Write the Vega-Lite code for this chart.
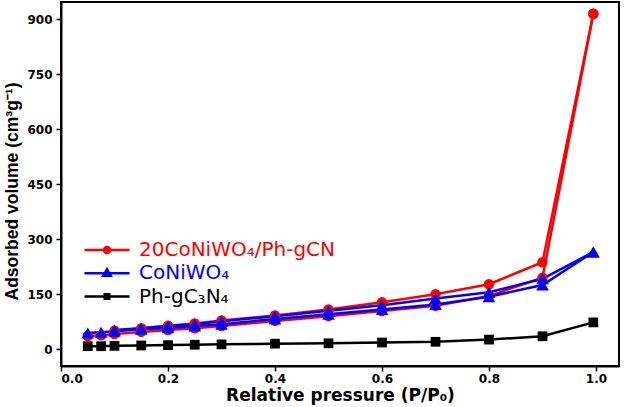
{
  "$schema": "https://vega.github.io/schema/vega-lite/v6.json",
  "width": 558,
  "height": 364,
  "autosize": {"type": "none"},
  "padding": {"left": 61, "top": 2, "right": 8, "bottom": 41},
  "background": "white",
  "config": {
    "view": {"stroke": "#000000", "strokeWidth": 2},
    "font": "Liberation Sans",
    "axis": {
      "domainColor": "#000000",
      "domainWidth": 2,
      "tickColor": "#000000",
      "tickWidth": 1.5,
      "tickSize": 5,
      "grid": false,
      "labelFont": "DejaVu Sans",
      "labelFontSize": 12,
      "labelFontWeight": "bold",
      "labelColor": "#000000",
      "titleFont": "DejaVu Sans",
      "titleFontSize": 17,
      "titleFontWeight": "bold",
      "titleColor": "#000000"
    },
    "legend": {
      "padding": 0, "orient": "none", "legendX": 36, "legendY": 238, "title": null,
      "labelFontSize": 20, "labelFont": "DejaVu Sans",
      "symbolSize": 100, "symbolStrokeWidth": 2.5, "symbolOpacity": 1, "rowPadding": 3.3, "labelOffset": 22, "labelLimit": 400
    }
  },
  "datasets": {
    "iso": [
      {"series": "20CoNiWO₄/Ph-gCN", "branch": "ads", "p": 0.05, "v": 36},
      {"series": "20CoNiWO₄/Ph-gCN", "branch": "ads", "p": 0.075, "v": 38},
      {"series": "20CoNiWO₄/Ph-gCN", "branch": "ads", "p": 0.1, "v": 41},
      {"series": "20CoNiWO₄/Ph-gCN", "branch": "ads", "p": 0.15, "v": 47},
      {"series": "20CoNiWO₄/Ph-gCN", "branch": "ads", "p": 0.2, "v": 52},
      {"series": "20CoNiWO₄/Ph-gCN", "branch": "ads", "p": 0.25, "v": 57},
      {"series": "20CoNiWO₄/Ph-gCN", "branch": "ads", "p": 0.3, "v": 63},
      {"series": "20CoNiWO₄/Ph-gCN", "branch": "ads", "p": 0.4, "v": 77},
      {"series": "20CoNiWO₄/Ph-gCN", "branch": "ads", "p": 0.5, "v": 90},
      {"series": "20CoNiWO₄/Ph-gCN", "branch": "ads", "p": 0.6, "v": 104},
      {"series": "20CoNiWO₄/Ph-gCN", "branch": "ads", "p": 0.7, "v": 118},
      {"series": "20CoNiWO₄/Ph-gCN", "branch": "ads", "p": 0.8, "v": 145},
      {"series": "20CoNiWO₄/Ph-gCN", "branch": "ads", "p": 0.9, "v": 195},
      {"series": "20CoNiWO₄/Ph-gCN", "branch": "ads", "p": 0.995, "v": 915},
      {"series": "20CoNiWO₄/Ph-gCN", "branch": "des", "p": 0.995, "v": 915},
      {"series": "20CoNiWO₄/Ph-gCN", "branch": "des", "p": 0.9, "v": 237},
      {"series": "20CoNiWO₄/Ph-gCN", "branch": "des", "p": 0.8, "v": 177},
      {"series": "20CoNiWO₄/Ph-gCN", "branch": "des", "p": 0.7, "v": 150},
      {"series": "20CoNiWO₄/Ph-gCN", "branch": "des", "p": 0.6, "v": 128},
      {"series": "20CoNiWO₄/Ph-gCN", "branch": "des", "p": 0.5, "v": 108},
      {"series": "20CoNiWO₄/Ph-gCN", "branch": "des", "p": 0.4, "v": 92},
      {"series": "20CoNiWO₄/Ph-gCN", "branch": "des", "p": 0.3, "v": 78},
      {"series": "20CoNiWO₄/Ph-gCN", "branch": "des", "p": 0.25, "v": 70},
      {"series": "20CoNiWO₄/Ph-gCN", "branch": "des", "p": 0.2, "v": 64},
      {"series": "20CoNiWO₄/Ph-gCN", "branch": "des", "p": 0.15, "v": 57},
      {"series": "20CoNiWO₄/Ph-gCN", "branch": "des", "p": 0.1, "v": 50},
      {"series": "CoNiWO₄", "branch": "ads", "p": 0.05, "v": 44},
      {"series": "CoNiWO₄", "branch": "ads", "p": 0.075, "v": 46},
      {"series": "CoNiWO₄", "branch": "ads", "p": 0.1, "v": 49},
      {"series": "CoNiWO₄", "branch": "ads", "p": 0.15, "v": 54},
      {"series": "CoNiWO₄", "branch": "ads", "p": 0.2, "v": 58},
      {"series": "CoNiWO₄", "branch": "ads", "p": 0.25, "v": 63},
      {"series": "CoNiWO₄", "branch": "ads", "p": 0.3, "v": 68},
      {"series": "CoNiWO₄", "branch": "ads", "p": 0.4, "v": 82},
      {"series": "CoNiWO₄", "branch": "ads", "p": 0.5, "v": 95},
      {"series": "CoNiWO₄", "branch": "ads", "p": 0.6, "v": 108},
      {"series": "CoNiWO₄", "branch": "ads", "p": 0.7, "v": 122},
      {"series": "CoNiWO₄", "branch": "ads", "p": 0.8, "v": 143},
      {"series": "CoNiWO₄", "branch": "ads", "p": 0.9, "v": 175},
      {"series": "CoNiWO₄", "branch": "ads", "p": 0.995, "v": 265},
      {"series": "CoNiWO₄", "branch": "des", "p": 0.995, "v": 265},
      {"series": "CoNiWO₄", "branch": "des", "p": 0.9, "v": 192},
      {"series": "CoNiWO₄", "branch": "des", "p": 0.8, "v": 155},
      {"series": "CoNiWO₄", "branch": "des", "p": 0.7, "v": 138},
      {"series": "CoNiWO₄", "branch": "des", "p": 0.6, "v": 120},
      {"series": "CoNiWO₄", "branch": "des", "p": 0.5, "v": 105},
      {"series": "CoNiWO₄", "branch": "des", "p": 0.4, "v": 90},
      {"series": "CoNiWO₄", "branch": "des", "p": 0.3, "v": 76},
      {"series": "CoNiWO₄", "branch": "des", "p": 0.25, "v": 68},
      {"series": "CoNiWO₄", "branch": "des", "p": 0.2, "v": 63},
      {"series": "CoNiWO₄", "branch": "des", "p": 0.15, "v": 57},
      {"series": "CoNiWO₄", "branch": "des", "p": 0.1, "v": 52},
      {"series": "Ph-gC₃N₄", "branch": "ads", "p": 0.05, "v": 8},
      {"series": "Ph-gC₃N₄", "branch": "ads", "p": 0.075, "v": 8},
      {"series": "Ph-gC₃N₄", "branch": "ads", "p": 0.1, "v": 9},
      {"series": "Ph-gC₃N₄", "branch": "ads", "p": 0.15, "v": 10},
      {"series": "Ph-gC₃N₄", "branch": "ads", "p": 0.2, "v": 11},
      {"series": "Ph-gC₃N₄", "branch": "ads", "p": 0.25, "v": 12},
      {"series": "Ph-gC₃N₄", "branch": "ads", "p": 0.3, "v": 13},
      {"series": "Ph-gC₃N₄", "branch": "ads", "p": 0.4, "v": 15},
      {"series": "Ph-gC₃N₄", "branch": "ads", "p": 0.5, "v": 16},
      {"series": "Ph-gC₃N₄", "branch": "ads", "p": 0.6, "v": 18},
      {"series": "Ph-gC₃N₄", "branch": "ads", "p": 0.7, "v": 20},
      {"series": "Ph-gC₃N₄", "branch": "ads", "p": 0.8, "v": 26},
      {"series": "Ph-gC₃N₄", "branch": "ads", "p": 0.9, "v": 35},
      {"series": "Ph-gC₃N₄", "branch": "ads", "p": 0.995, "v": 73}
    ],
    "names": [
      {"series": "20CoNiWO₄/Ph-gCN"},
      {"series": "CoNiWO₄"},
      {"series": "Ph-gC₃N₄"}
    ]
  },
  "layer": [
    {
      "data": {"name": "iso"},
      "mark": {"type": "line", "strokeWidth": 2.5},
      "encoding": {
        "x": {"field": "p", "type": "quantitative", "scale": {"domain": [0, 1.043], "nice": false, "zero": false}, "axis": {"title": "Relative pressure (P/P₀)", "values": [0, 0.2, 0.4, 0.6, 0.8, 1.0], "format": ".1f", "labelPadding": 2, "titlePadding": 3}},
        "y": {"field": "v", "type": "quantitative", "scale": {"domain": [-46, 947], "nice": false, "zero": false}, "axis": {"title": "Adsorbed volume (cm³g⁻¹)", "titleFont": "Liberation Sans", "titleFontSize": 17.5, "titleY": 189, "values": [0, 150, 300, 450, 600, 750, 900], "labelPadding": 4, "titlePadding": 5}},
        "color": {"field": "series", "type": "nominal", "scale": {"domain": ["20CoNiWO₄/Ph-gCN", "CoNiWO₄", "Ph-gC₃N₄"], "range": ["#ff0000", "#0000ff", "#000000"]}},
        "detail": {"field": "branch"}
      }
    },
    {
      "data": {"name": "iso"},
      "transform": [{"filter": "datum.series === '20CoNiWO₄/Ph-gCN'"}],
      "mark": {"type": "point", "filled": true, "opacity": 1, "shape": "circle", "size": 110},
      "encoding": {
        "x": {"field": "p", "type": "quantitative"},
        "y": {"field": "v", "type": "quantitative"},
        "color": {"field": "series", "type": "nominal"}
      }
    },
    {
      "data": {"name": "iso"},
      "transform": [{"filter": "datum.series === 'CoNiWO₄'"}],
      "mark": {"type": "point", "filled": true, "opacity": 1, "shape": "triangle-up", "size": 160},
      "encoding": {
        "x": {"field": "p", "type": "quantitative"},
        "y": {"field": "v", "type": "quantitative"},
        "color": {"field": "series", "type": "nominal"}
      }
    },
    {
      "data": {"name": "iso"},
      "transform": [{"filter": "datum.series === 'Ph-gC₃N₄'"}],
      "mark": {"type": "point", "filled": true, "opacity": 1, "shape": "square", "size": 95},
      "encoding": {
        "x": {"field": "p", "type": "quantitative"},
        "y": {"field": "v", "type": "quantitative"},
        "color": {"field": "series", "type": "nominal"}
      }
    },
    {
      "data": {"name": "names"},
      "mark": {"type": "point", "filled": true, "opacity": 0},
      "encoding": {
        "color": {"field": "series", "type": "nominal", "legend": {
          "orient": "none", "legendX": 36, "legendY": 238, "title": null,
          "labelFontSize": 20, "labelFont": "DejaVu Sans",
          "symbolSize": 100, "symbolStrokeWidth": 2.5, "symbolOpacity": 1, "rowPadding": 3.3, "labelOffset": 22, "labelLimit": 400,
          "encode": {
            "symbols": {"update": {"stroke": {"scale": "color", "field": "value"}, "strokeWidth": {"value": 2.5}, "opacity": {"value": 1}, "fillOpacity": {"value": 1}, "strokeOpacity": {"value": 1}}},
            "labels": {"update": {"fill": {"scale": "color", "field": "value"}}}
          }
        }},
        "shape": {"field": "series", "type": "nominal", "scale": {"domain": ["20CoNiWO₄/Ph-gCN", "CoNiWO₄", "Ph-gC₃N₄"], "range": [
          "M-4.5,0H4.5M-0.6,0A0.6,0.6 0 1,0 0.6,0A0.6,0.6 0 1,0 -0.6,0Z",
          "M-4.5,0H4.5M0,-0.8L0.75,0.5L-0.75,0.5Z",
          "M-4.5,0H4.5M-0.45,-0.45H0.45V0.45H-0.45Z"
        ]}, "legend": {
          "orient": "none", "legendX": 36, "legendY": 238, "title": null,
          "labelFontSize": 20, "labelFont": "DejaVu Sans",
          "symbolSize": 100, "symbolStrokeWidth": 2.5, "symbolOpacity": 1, "rowPadding": 3.3, "labelOffset": 22, "labelLimit": 400,
          "encode": {
            "symbols": {"update": {"stroke": {"scale": "color", "field": "value"}, "strokeWidth": {"value": 2.5}, "opacity": {"value": 1}, "fillOpacity": {"value": 1}, "strokeOpacity": {"value": 1}}},
            "labels": {"update": {"fill": {"scale": "color", "field": "value"}}}
          }
        }}
      }
    }
  ]
}
